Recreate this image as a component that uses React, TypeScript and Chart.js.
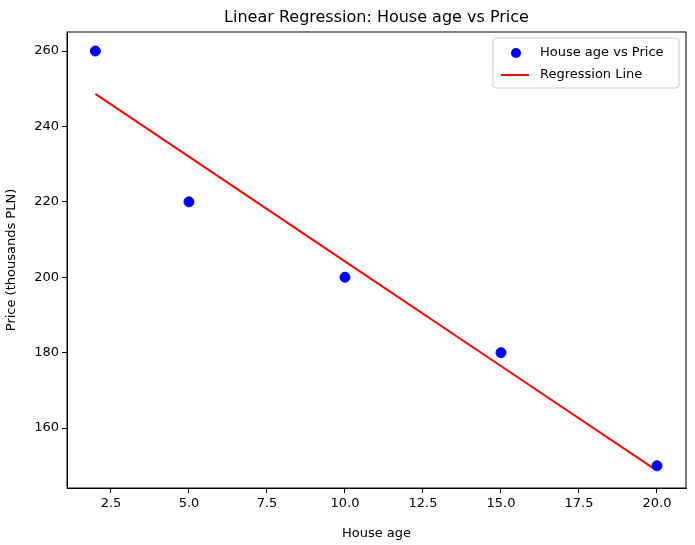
import { useEffect, useRef } from "react";
import Chart from "chart.js/auto";

const houseAge = [2, 5, 10, 15, 20];
const price = [260, 220, 200, 180, 150];
const regressionPrice = [248.65, 231.99, 204.22, 176.46, 148.69];
const xTicks = [2.5, 5.0, 7.5, 10.0, 12.5, 15.0, 17.5, 20.0];
const yTicks = [160, 180, 200, 220, 240, 260];

const FONT = "'DejaVu Sans', sans-serif";

const framePlugin = {
  id: "frame",
  afterDraw(chart: any) {
    const { ctx, chartArea: a } = chart;
    ctx.save();
    ctx.strokeStyle = "#000";
    ctx.lineWidth = 1;
    ctx.strokeRect(a.left, a.top, a.right - a.left, a.bottom - a.top);
    // title
    ctx.fillStyle = "#000";
    ctx.font = `16px ${FONT}`;
    ctx.textAlign = "center";
    ctx.textBaseline = "alphabetic";
    ctx.fillText("Linear Regression: House age vs Price", (a.left + a.right) / 2, 22);
    // legend
    const w = 186, h = 50;
    const x0 = a.right - w - 7, y0 = a.top + 6;
    ctx.fillStyle = "rgba(255,255,255,0.8)";
    ctx.strokeStyle = "#ccc";
    ctx.beginPath();
    ctx.roundRect(x0, y0, w, h, 3);
    ctx.fill();
    ctx.stroke();
    ctx.font = `13px ${FONT}`;
    ctx.textAlign = "left";
    ctx.textBaseline = "middle";
    ctx.fillStyle = "blue";
    ctx.beginPath();
    ctx.arc(x0 + 23, y0 + 15, 5, 0, Math.PI * 2);
    ctx.fill();
    ctx.strokeStyle = "red";
    ctx.lineWidth = 2;
    ctx.beginPath();
    ctx.moveTo(x0 + 8, y0 + 37);
    ctx.lineTo(x0 + 36, y0 + 37);
    ctx.stroke();
    ctx.fillStyle = "#000";
    ctx.fillText(chart.data.datasets[0].label, x0 + 47, y0 + 15);
    ctx.fillText(chart.data.datasets[1].label, x0 + 47, y0 + 37);
    ctx.restore();
  },
};

export default function App() {
  const canvasRef = useRef<HTMLCanvasElement>(null);
  const chartRef = useRef<Chart | null>(null);

  useEffect(() => {
    if (chartRef.current) chartRef.current.destroy();
    const ctx = canvasRef.current?.getContext("2d");
    if (!ctx) return;
    chartRef.current = new Chart(ctx, {
      type: "scatter",
      data: {
        datasets: [
          {
            label: "House age vs Price",
            data: houseAge.map((x, i) => ({ x, y: price[i] })),
            backgroundColor: "blue",
            borderColor: "blue",
            pointRadius: 5,
          },
          {
            label: "Regression Line",
            type: "line",
            data: houseAge.map((x, i) => ({ x, y: regressionPrice[i] })),
            borderColor: "red",
            borderWidth: 2,
            pointRadius: 0,
            fill: false,
            tension: 0,
          },
        ],
      },
      options: {
        responsive: false,
        animation: false,
        layout: { padding: { top: 32, right: 9, left: 0, bottom: 0 } },
        plugins: { legend: { display: false }, title: { display: false }, tooltip: { enabled: false } },
        scales: {
          x: {
            type: "linear",
            min: 1.09,
            max: 20.93,
            afterBuildTicks: (s: any) => { s.ticks = xTicks.map((v) => ({ value: v })); },
            afterFit: (s: any) => { s.height = 57; },
            grid: { drawOnChartArea: false, drawTicks: true, tickLength: 5, color: "#000" },
            border: { display: true, color: "#000" },
            ticks: { color: "#000", font: { family: FONT, size: 13 }, padding: 3, maxRotation: 0, callback: (v: any) => Number(v).toFixed(1) },
            title: { display: true, text: "House age", color: "#000", font: { family: FONT, size: 13 }, padding: { top: 2 } },
          },
          y: {
            min: 144.1,
            max: 265.04,
            afterBuildTicks: (s: any) => { s.ticks = yTicks.map((v) => ({ value: v })); },
            afterFit: (s: any) => { s.width = 67; },
            grid: { drawOnChartArea: false, drawTicks: true, tickLength: 5, color: "#000" },
            border: { display: true, color: "#000" },
            ticks: { color: "#000", font: { family: FONT, size: 13 }, padding: 3 },
            title: { display: true, text: "Price (thousands PLN)", color: "#000", font: { family: FONT, size: 13 }, padding: { bottom: 4 } },
          },
        },
      },
      plugins: [framePlugin],
    });
    return () => {
      chartRef.current?.destroy();
      chartRef.current = null;
    };
  }, []);

  return (
    <div style={{ position: "absolute", left: 0, top: 0, width: 695, height: 545, background: "#fff" }}>
      <canvas ref={canvasRef} width={695} height={545} style={{ width: 695, height: 545 }} />
    </div>
  );
}
